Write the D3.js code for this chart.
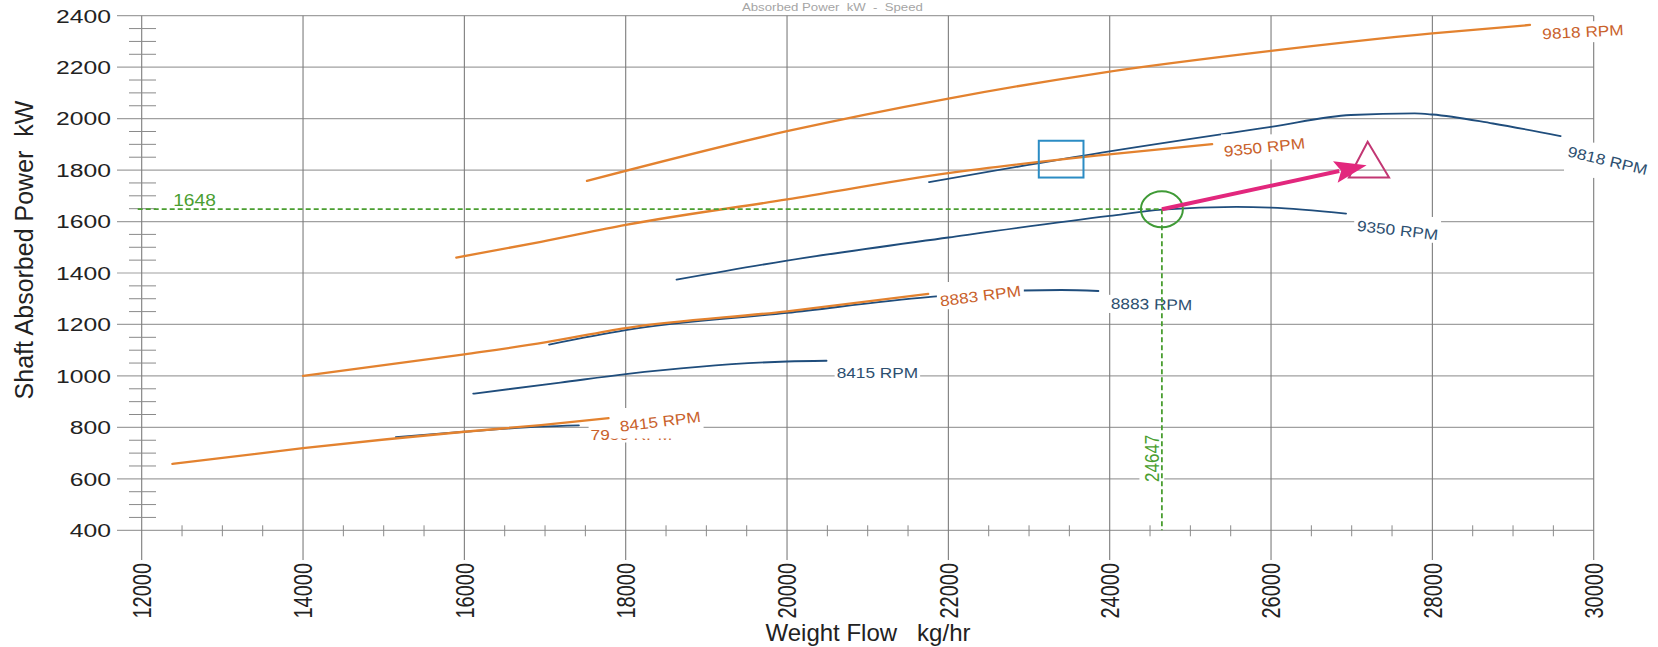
<!DOCTYPE html>
<html>
<head>
<meta charset="utf-8">
<script src="https://cdn.jsdelivr.net/npm/d3@7"></script>
<style>
  html, body { margin: 0; padding: 0; background: #fff; }
  svg { display: block; font-family: "Liberation Sans", Arial, sans-serif; }
</style>
</head>
<body>
<div id="chart"></div>
<script>
// tick values
var xTicks = [ 12000, 14000, 16000, 18000, 20000, 22000, 24000, 26000, 28000, 30000 ];
var yTicks = [ 400, 600, 800, 1000, 1200, 1400, 1600, 1800, 2000, 2200, 2400 ];

// speed lines: [ weight flow kg/hr, shaft power kW ]
var orange9818 = [ [17520,1758], [20000,1951], [22000,2078], [23900,2178], [26000,2263], [28000,2331], [29210,2364] ];
var orange9350 = [ [15900,1460], [16950,1521], [18000,1587], [20000,1686], [22000,1788], [23900,1858], [25270,1901] ];
var orange8883 = [ [14000,1000], [16000,1084], [17000,1130], [18000,1186], [20000,1251], [21750,1319] ];
var orange8415 = [ [12380,658], [14000,719], [16000,783], [16950,809], [17790,836] ];

var blue9818 = [ [21760,1753], [23900,1868], [26000,1968], [26990,2014], [27780,2020], [28000,2016], [28750,1981], [29590,1932] ];
var blue9350 = [ [18630,1374], [20000,1448], [22000,1538], [24000,1622], [24650,1646], [25570,1657], [26000,1654], [26930,1631] ];
var blue8883 = [ [17050,1122], [18000,1178], [20000,1245], [21750,1306], [22930,1332], [23400,1334], [23860,1330] ];
var blue8415 = [ [16110,931], [17190,974], [18000,1007], [20000,1056], [20490,1059] ];
var blue7950 = [ [15150,762], [16000,783], [16950,803], [17420,808] ];

// duty point and markers
var opFlow = 24647, opPower = 1648;
var arrowTip = [ 27185, 1819 ];
var triangleMark = [ [27198,1910], [26965,1771], [27463,1771] ];
var squareMark = [ [23121,1914], [23675,1771] ];

var width = 1658, height = 647;
var orange = "#e3822f", orangeText = "#c9612b";
var blue = "#1f4d7c", blueText = "#2d4f70";
var green = "#4a9e30";

var x = d3.scaleLinear().domain( [ 12000, 30000 ] ).range( [ 141.7, 1593.7 ] );
var y = d3.scaleLinear().domain( [ 400, 2400 ] ).range( [ 530.3, 15.7 ] );

var svg = d3.select( "#chart" ).append( "svg" )
	.attr( "width", width )
	.attr( "height", height );

svg.append( "rect" ).attr( "width", width ).attr( "height", height ).attr( "fill", "#fff" );

// faint title above the frame
svg.append( "text" )
	.attr( "transform", "translate(742,11) scale(1.2,1)" )
	.attr( "font-size", 11 )
	.attr( "fill", "#a5a5a5" )
	.style( "white-space", "pre" )
	.text( "Absorbed Power  kW  -  Speed" );

// grid
var grid = svg.append( "g" );
grid.selectAll( ".hg" ).data( yTicks ).join( "line" )
	.attr( "x1", 117 ).attr( "x2", x( 30000 ) )
	.attr( "y1", d => y( d ) ).attr( "y2", d => y( d ) )
	.attr( "stroke", "#a0a0a0" ).attr( "stroke-width", 1.2 );
grid.selectAll( ".vg" ).data( xTicks ).join( "line" )
	.attr( "x1", d => x( d ) ).attr( "x2", d => x( d ) )
	.attr( "y1", y( 2400 ) ).attr( "y2", 560 )
	.attr( "stroke", "#7c7c7c" ).attr( "stroke-width", 1.1 );

var yMinor = d3.range( 450, 2400, 50 ).filter( d => d % 200 !== 0 );
grid.selectAll( ".ym" ).data( yMinor ).join( "line" )
	.attr( "x1", 129 ).attr( "x2", 156 )
	.attr( "y1", d => y( d ) ).attr( "y2", d => y( d ) )
	.attr( "stroke", "#8a8a8a" ).attr( "stroke-width", 1 );
var xMinor = d3.range( 12500, 30000, 500 ).filter( d => d % 2000 !== 0 );
grid.selectAll( ".xm" ).data( xMinor ).join( "line" )
	.attr( "x1", d => x( d ) ).attr( "x2", d => x( d ) )
	.attr( "y1", y( 400 ) - 5 ).attr( "y2", y( 400 ) + 6 )
	.attr( "stroke", "#8a8a8a" ).attr( "stroke-width", 1 );

// tick labels
svg.append( "g" ).selectAll( "text" ).data( yTicks ).join( "text" )
	.attr( "transform", d => `translate(111,${ y( d ) }) scale(1.3,1)` )
	.attr( "text-anchor", "end" )
	.attr( "dy", "0.36em" )
	.attr( "font-size", 19 )
	.attr( "fill", "#222" )
	.text( d => d );

svg.append( "g" ).selectAll( "text" ).data( xTicks ).join( "text" )
	.attr( "transform", d => `translate(${ x( d ) },563) scale(1.3,1) rotate(-90)` )
	.attr( "text-anchor", "end" )
	.attr( "dy", "0.36em" )
	.attr( "font-size", 20 )
	.attr( "fill", "#222" )
	.text( d => d );

// axis titles
svg.append( "text" )
	.attr( "transform", "translate(33,250) rotate(-90)" )
	.attr( "text-anchor", "middle" )
	.attr( "font-size", 25 )
	.attr( "fill", "#222" )
	.style( "white-space", "pre" )
	.text( "Shaft Absorbed Power  kW" );

svg.append( "text" )
	.attr( "x", 868 ).attr( "y", 641 )
	.attr( "text-anchor", "middle" )
	.attr( "font-size", 24 )
	.attr( "fill", "#222" )
	.style( "white-space", "pre" )
	.text( "Weight Flow   kg/hr" );

// speed lines
var line = d3.line()
	.x( d => x( d[0] ) )
	.y( d => y( d[1] ) )
	.curve( d3.curveMonotoneX );

var curves = [
	{ pts: blue9818, color: blue, w: 1.8 },
	{ pts: blue9350, color: blue, w: 1.8 },
	{ pts: blue8883, color: blue, w: 1.8 },
	{ pts: blue8415, color: blue, w: 1.8 },
	{ pts: blue7950, color: blue, w: 1.8 },
	{ pts: orange9818, color: orange, w: 2.3 },
	{ pts: orange9350, color: orange, w: 2.3 },
	{ pts: orange8883, color: orange, w: 2.3 },
	{ pts: orange8415, color: orange, w: 2.3 }
];
svg.append( "g" ).selectAll( "path" ).data( curves ).join( "path" )
	.attr( "d", d => line( d.pts ) )
	.attr( "fill", "none" )
	.attr( "stroke", d => d.color )
	.attr( "stroke-width", d => d.w )
	.attr( "stroke-linecap", "round" );

// labels sit on upright white boxes, as on the scan
var labels = svg.append( "g" );
function addLabel( txt, transform, color, size, padX, padY, padBottom, padLeft ) {
	var g = labels.append( "g" );
	var t = g.append( "text" )
		.attr( "transform", transform )
		.attr( "fill", color )
		.attr( "font-size", size )
		.style( "white-space", "pre" )
		.text( txt );
	var r = t.node().getBoundingClientRect(),
		s = svg.node().getBoundingClientRect();
	var pb = padBottom == null ? padY : padBottom;
	var pl = padLeft == null ? padX : padLeft;
	g.insert( "rect", "text" )
		.attr( "x", r.left - s.left - pl ).attr( "y", r.top - s.top - padY )
		.attr( "width", r.width + pl + padX ).attr( "height", r.height + padY + pb )
		.attr( "fill", "#fff" );
	return g;
}
function rpmLabel( txt, flow, power, rot, color, padBottom, padLeft ) {
	return addLabel( txt, `translate(${ x( flow ) },${ y( power ) }) rotate(${ rot }) scale(1.15,1)`, color, 15, 2, 0, padBottom, padLeft );
}

rpmLabel( "9818 RPM", 29366, 2308, -3, orangeText );
rpmLabel( "9350 RPM", 25423, 1852, -6, orangeText );
rpmLabel( "8883 RPM", 21905, 1270, -7.5, orangeText );
rpmLabel( "7950 RPM", 17565, 752, 0, orangeText );
rpmLabel( "8415 RPM", 17934, 783, -7, orangeText, 4, 9 );
rpmLabel( "9818 RPM", 29665, 1854, 13.5, blueText );
rpmLabel( "9350 RPM", 27060, 1564, 6.5, blueText );
rpmLabel( "8883 RPM", 24013, 1261, 1, blueText );
rpmLabel( "8415 RPM", 20615, 990, 0, blueText );

// duty point guide lines
var guides = svg.append( "g" )
	.attr( "stroke", green ).attr( "stroke-width", 1.8 )
	.attr( "stroke-dasharray", "5,3" ).attr( "fill", "none" );
guides.append( "line" )
	.attr( "x1", x( 12000 ) - 4 ).attr( "x2", x( opFlow ) )
	.attr( "y1", y( opPower ) ).attr( "y2", y( opPower ) );
guides.append( "line" )
	.attr( "x1", x( opFlow ) ).attr( "x2", x( opFlow ) )
	.attr( "y1", y( opPower ) ).attr( "y2", y( 400 ) );

addLabel( String( opPower ), `translate(${ x( 12390 ) },${ y( 1660 ) }) scale(1.2,1)`, green, 16, 3, 1 );
addLabel( String( opFlow ), `translate(${ x( opFlow ) - 3 },${ y( 588 ) }) rotate(-90) scale(1,1.2)`, green, 17, 1, 2 );

// markers
svg.append( "rect" )
	.attr( "x", x( squareMark[0][0] ) ).attr( "y", y( squareMark[0][1] ) )
	.attr( "width", x( squareMark[1][0] ) - x( squareMark[0][0] ) )
	.attr( "height", y( squareMark[1][1] ) - y( squareMark[0][1] ) )
	.attr( "fill", "none" ).attr( "stroke", "#2b8cc4" ).attr( "stroke-width", 2 );

svg.append( "polygon" )
	.attr( "points", triangleMark.map( d => x( d[0] ) + "," + y( d[1] ) ).join( " " ) )
	.attr( "fill", "none" ).attr( "stroke", "#c23673" ).attr( "stroke-width", 2 );

svg.append( "ellipse" )
	.attr( "cx", x( opFlow ) ).attr( "cy", y( opPower ) )
	.attr( "rx", 21 ).attr( "ry", 18 )
	.attr( "fill", "none" ).attr( "stroke", "#3f9a36" ).attr( "stroke-width", 2 );

// arrow from the duty point
var p0 = [ x( opFlow ), y( opPower ) ], p1 = [ x( arrowTip[0] ), y( arrowTip[1] ) ];
var len = Math.hypot( p1[0] - p0[0], p1[1] - p0[1] );
var ux = ( p1[0] - p0[0] ) / len, uy = ( p1[1] - p0[1] ) / len;
var headL = 32, headW = 11;
var base = [ p1[0] - ux * headL, p1[1] - uy * headL ];
svg.append( "line" )
	.attr( "x1", p0[0] ).attr( "y1", p0[1] )
	.attr( "x2", base[0] + ux * 4 ).attr( "y2", base[1] + uy * 4 )
	.attr( "stroke", "#e2277d" ).attr( "stroke-width", 4 );
svg.append( "polygon" )
	.attr( "points", [
		p1,
		[ base[0] - uy * headW, base[1] + ux * headW ],
		[ base[0] + ux * 6, base[1] + uy * 6 ],
		[ base[0] + uy * headW, base[1] - ux * headW ]
	].map( d => d.join( "," ) ).join( " " ) )
	.attr( "fill", "#e2277d" );
</script>
</body>
</html>
